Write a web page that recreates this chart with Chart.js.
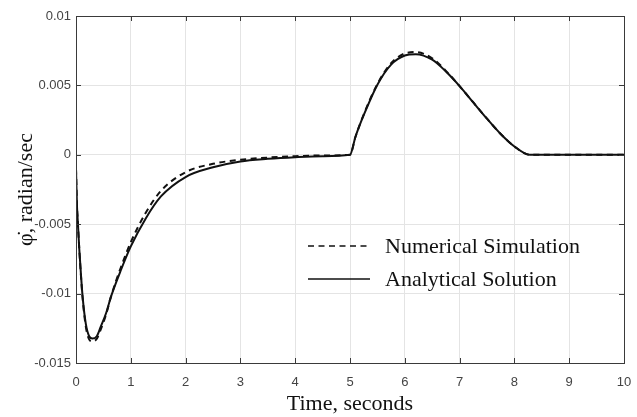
<!DOCTYPE html>
<html>
<head>
<meta charset="utf-8">
<script src="https://cdn.jsdelivr.net/npm/chart.js@4.4.0/dist/chart.umd.min.js"></script>
<style>
  html, body { margin: 0; padding: 0; background: #fff; }
  #box { width: 637px; height: 417px; }
</style>
</head>
<body>
<div id="box"><canvas id="myChart"></canvas></div>
<script>
// time, seconds
var time = [0, 0.018, 0.03, 0.06, 0.09, 0.12, 0.18, 0.24, 0.3, 0.38, 0.45, 0.55, 0.64, 0.82, 1.0, 1.27, 1.55, 2.0, 2.5, 3.0, 3.5, 4.0, 4.5, 5.0,
            5.1, 5.25, 5.5, 5.75, 6.0, 6.2, 6.5, 6.75, 7.0, 7.25, 7.5, 7.75, 8.0, 8.28, 9, 10];
// phi dot, radian/sec (x 1e-3)
var numerical = [-1.0, -3.7, -4.6, -6.8, -8.7, -10.3, -12.4, -13.3, -13.45, -13.25, -12.6, -11.5, -10.2, -8.1, -6.3, -4.2, -2.6, -1.25, -0.65, -0.36, -0.2, -0.1, -0.05, 0,
                 1.3, 2.9, 5.1, 6.6, 7.3, 7.4, 6.95, 6.05, 4.95, 3.77, 2.6, 1.5, 0.6, 0, 0, 0];
var analytical = [-1.0, -3.7, -4.6, -6.8, -8.6, -10.2, -12.2, -13.07, -13.24, -13.07, -12.4, -11.4, -10.2, -8.3, -6.6, -4.6, -3.0, -1.6, -0.9, -0.48, -0.29, -0.17, -0.1, 0,
                  1.3, 2.85, 5.05, 6.5, 7.15, 7.25, 6.85, 6.0, 4.95, 3.77, 2.6, 1.5, 0.6, 0, 0, 0];
var seriesNames = ['Numerical Simulation', 'Analytical Solution'];
var yTicks = [-0.015, -0.01, -0.005, 0, 0.005, 0.01];
var xTicks = [0, 1, 2, 3, 4, 5, 6, 7, 8, 9, 10];

function pts(arr) {
    var out = [];
    for (var i = 0; i < time.length; i++) {
        out.push({x: time[i], y: arr[i] / 1000});
    }
    return out;
}

// box round the plot, little inward ticks and the legend inside
var framePlugin = {
    id: 'frame',
    afterDraw: function (chart) {
        var c = chart.ctx, a = chart.chartArea;
        var xs = chart.scales.x, ys = chart.scales.y;
        c.save();
        c.strokeStyle = '#3a3a3a';
        c.lineWidth = 1;
        c.strokeRect(a.left + 0.5, a.top + 0.5, a.right - a.left, a.bottom - a.top);
        c.beginPath();
        xTicks.forEach(function (v) {
            var px = Math.round(xs.getPixelForValue(v)) + 0.5;
            c.moveTo(px, a.bottom); c.lineTo(px, a.bottom - 5);
            c.moveTo(px, a.top); c.lineTo(px, a.top + 5);
        });
        yTicks.forEach(function (v) {
            var py = Math.round(ys.getPixelForValue(v)) + 0.5;
            c.moveTo(a.left, py); c.lineTo(a.left + 5, py);
            c.moveTo(a.right, py); c.lineTo(a.right - 5, py);
        });
        c.stroke();

        // legend
        var lx = a.left + 232, tx = a.left + 309;
        var rows = [a.top + 230, a.top + 263];
        chart.data.datasets.forEach(function (ds, i) {
            c.strokeStyle = '#111';
            c.lineWidth = 1.6;
            c.setLineDash(ds.borderDash || []);
            c.beginPath();
            c.moveTo(lx, rows[i]); c.lineTo(lx + 62, rows[i]);
            c.stroke();
            c.setLineDash([]);
            c.fillStyle = '#111';
            c.font = '22px "Liberation Serif", "Times New Roman", serif';
            c.textBaseline = 'middle';
            c.fillText(ds.label, tx, rows[i] + 1);
        });
        c.restore();
    }
};

var tickFont = {family: '"Liberation Sans Narrow", "Arial Narrow", "Liberation Sans", sans-serif', size: 13};
var titleFont = {family: '"Liberation Serif", "Times New Roman", serif', size: 22};

var ctx = document.getElementById('myChart');
var myChart = new Chart(ctx, {
    type: 'line',
    data: {
        datasets: [{
            label: seriesNames[0],
            data: pts(numerical),
            borderColor: '#111',
            borderWidth: 2,
            borderDash: [6, 4.5],
            pointRadius: 0,
            cubicInterpolationMode: 'monotone',
            fill: false
        }, {
            label: seriesNames[1],
            data: pts(analytical),
            borderColor: '#111',
            borderWidth: 2,
            pointRadius: 0,
            cubicInterpolationMode: 'monotone',
            fill: false
        }]
    },
    options: {
        responsive: true,
        maintainAspectRatio: false,
        animation: false,
        layout: {
            padding: 0
        },
        plugins: {
            legend: {display: false},
            tooltip: {enabled: false}
        },
        scales: {
            x: {
                type: 'linear',
                min: 0,
                max: 10,
                afterBuildTicks: function (s) {
                    s.ticks = xTicks.map(function (v) { return {value: v}; });
                },
                afterFit: function (s) {
                    s.height = 54;
                    s.paddingLeft = 0;
                    s.paddingRight = 13;
                },
                grid: {color: '#e4e4e4', drawTicks: false},
                border: {display: false},
                ticks: {padding: 12, color: '#444', font: tickFont},
                title: {
                    display: true,
                    text: 'Time, seconds',
                    color: '#111',
                    padding: {top: 0, bottom: 0},
                    font: titleFont
                }
            },
            y: {
                min: -0.015,
                max: 0.01,
                afterBuildTicks: function (s) {
                    s.ticks = yTicks.map(function (v) { return {value: v}; });
                },
                afterFit: function (s) {
                    s.width = 76;
                    s.paddingTop = 16;
                    s.paddingBottom = 0;
                },
                grid: {color: '#e4e4e4', drawTicks: false},
                border: {display: false},
                ticks: {
                    padding: 5,
                    color: '#444',
                    font: tickFont,
                    callback: function (v) { return String(Number(v.toFixed(3))); }
                },
                title: {
                    display: true,
                    text: '\u03C6\u0307, radian/sec',
                    color: '#111',
                    padding: {top: 13, bottom: 0},
                    font: titleFont
                }
            }
        }
    },
    plugins: [framePlugin]
});
</script>
</body>
</html>
